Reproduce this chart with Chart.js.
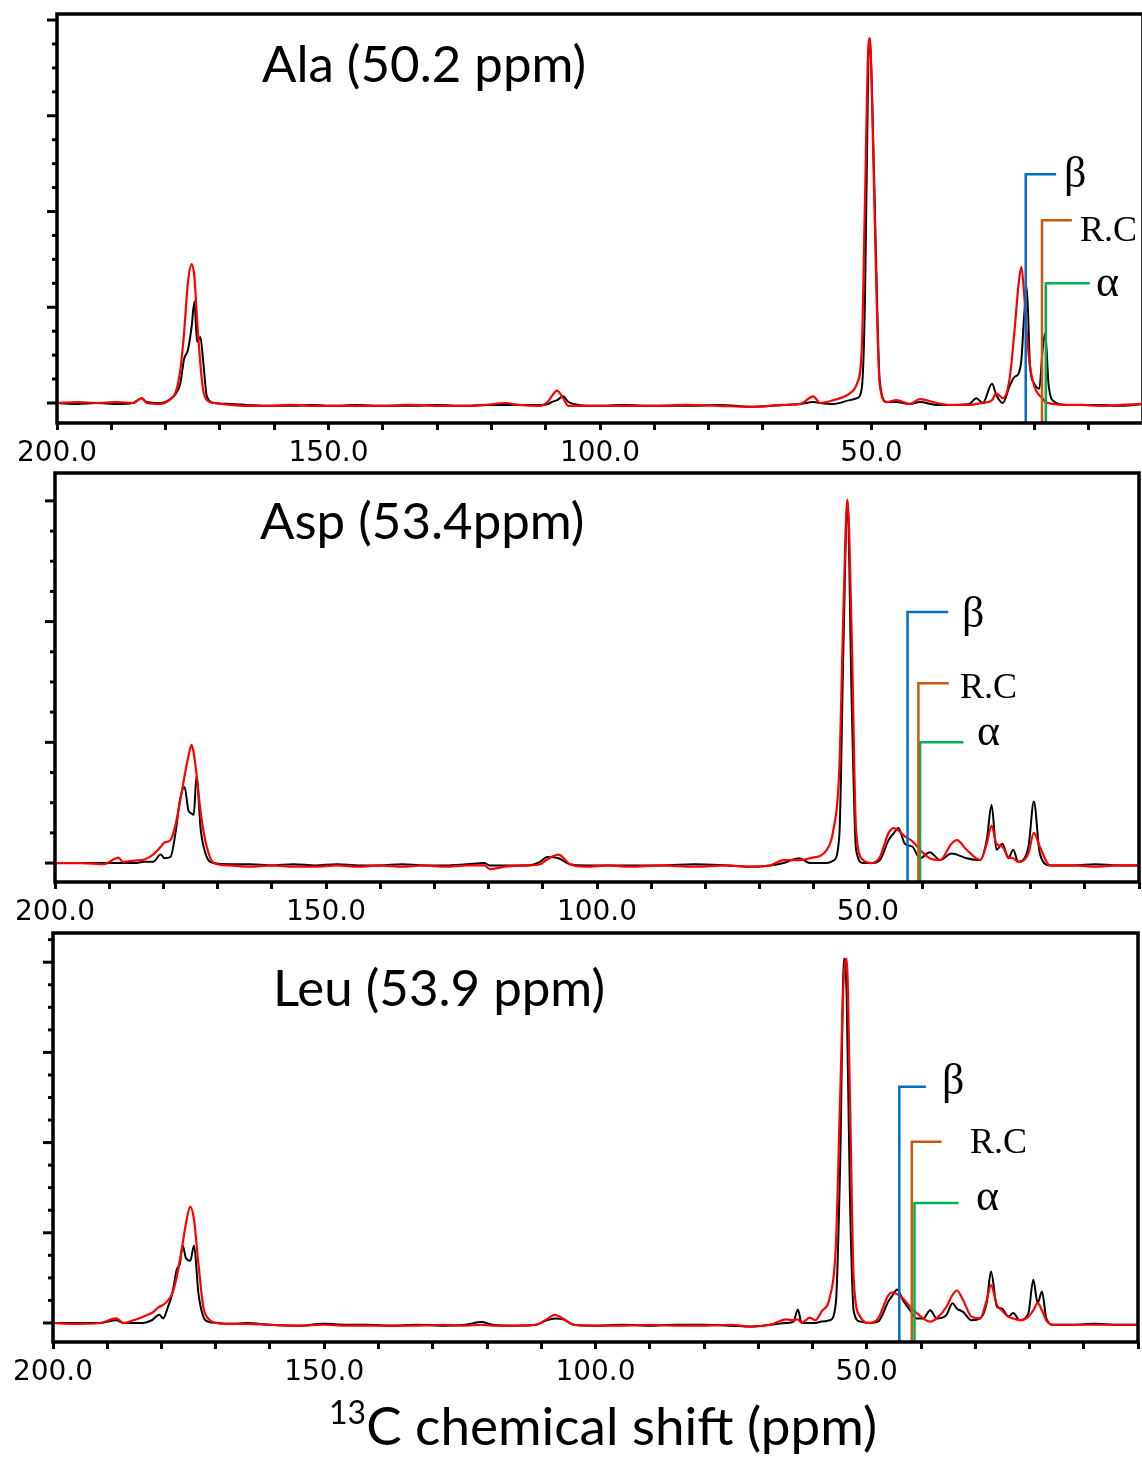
<!DOCTYPE html>
<html>
<head>
<meta charset="utf-8">
<script src="https://cdn.jsdelivr.net/npm/chart.js@4.4.1/dist/chart.umd.min.js"></script>
<style>
  body { margin: 0; background: #fff; width: 1142px; height: 1460px; overflow: hidden; position: relative; }
  canvas { position: absolute; left: 0; }
  .title { position: absolute; font-family: Lato, sans-serif; font-size: 51px; line-height: 51px; color: #000; white-space: nowrap; }
  .mark { position: absolute; font-family: "Liberation Serif", serif; color: #000; white-space: nowrap; }
  .xtitle { position: absolute; font-family: Lato, sans-serif; font-size: 53px; line-height: 53px; white-space: nowrap; }
  .xtitle sup { font-size: 32px; vertical-align: 0; position: relative; top: -21px; }
</style>
</head>
<body>
<canvas id="c1"></canvas>
<canvas id="c2"></canvas>
<canvas id="c3"></canvas>
<div class="xtitle" style="left:329px;top:1398px;"><sup>13</sup>C chemical shift (ppm)</div>
<script>
// ---- data (ppm, intensity relative to baseline) ----
const panelTitles = ["Ala (50.2 ppm)", "Asp (53.4ppm)", "Leu (53.9 ppm)"];
const markerNames = ["\u03b2", "R.C", "\u03b1"];
const labelledTicks = [200, 150, 100, 50];

const alaPpm = [200,196,192.9,189,186,184.4,183.5,181,179.1,178.1,177.3,176.6,175.9,175.2,174.7,174.2,173.6,173.1,172.4,171,
  168,165,161,157,153,149,145,140,135,130,125,121,117.4,115,111,109.5,108.9,107.9,106.8,105.8,104,100,
  96,90,84,78,72.3,66.2,63.1,60.7,59.5,57,54,52.7,51.8,51.2,50.6,50.3,49.9,49.2,48.5,47.2,45.4,43,41.1,38,35.6,32,30.7,29.5,
  27.8,27,25.8,24.6,23.7,22.9,22.4,21.9,21.4,20.8,20,19.1,18.5,18,17.4,16.7,14,11.2,8,4,0];
const alaRed = [0,0.01,0,0.01,0,0.05,0,-0.01,0.04,0.12,0.34,0.73,1.25,1.45,1.32,0.87,0.41,0.14,0.03,0,
  -0.02,-0.03,-0.03,-0.02,-0.03,-0.03,-0.03,-0.03,-0.02,-0.03,-0.03,-0.02,0,-0.02,-0.03,0.02,0.07,0.13,0.05,-0.03,-0.03,-0.03,
  -0.03,-0.03,-0.02,-0.03,-0.04,-0.02,-0.01,0.07,0,0.03,0.1,0.2,0.55,2.12,3.69,3.81,3.16,1.42,0.2,0.01,0.03,-0.01,0.04,0,-0.02,-0.02,-0.01,0,
  0.03,0.1,0.05,0.24,0.73,1.25,1.42,1.15,0.73,0.38,0.17,0.08,0.05,0.01,0,-0.01,-0.02,-0.02,-0.03,-0.02,-0.01];
const alaBlack = [0,-0.01,0,-0.01,0,0.05,0.01,0,0.04,0.1,0.2,0.46,0.55,0.8,1.06,0.64,0.69,0.45,0.07,0,
  -0.01,-0.02,-0.03,-0.03,-0.02,-0.03,-0.02,-0.03,-0.03,-0.02,-0.03,-0.02,-0.02,-0.02,-0.02,-0.01,0.01,0.03,0.07,0.01,-0.02,-0.03,
  -0.02,-0.03,-0.03,-0.02,-0.04,-0.02,-0.01,0.01,0,-0.01,0.03,0.05,0.15,1.08,3.51,3.81,3.23,1.6,0.24,0.01,0.01,-0.01,0.01,-0.02,-0.02,-0.01,0.05,0,
  0.2,0.08,0,0.17,0.27,0.31,0.45,0.9,1.21,0.38,0.2,0.15,0.55,0.73,0.2,0.03,-0.02,-0.02,-0.02,-0.03,-0.01];

const aspPpm = [200,195,191,188.3,187.5,185.4,183.5,181.9,180.5,179.8,178.7,177.7,177,176.1,175.4,174.8,174.4,173.9,173.1,172,170.7,
  167.8,164,160,156,152,148,144,140,136,132,128,124,120.8,119.8,117,113,110.5,109.2,107.1,105,102,98,
  94,88,82,76,71.8,68.1,65.6,62.7,60.7,57.6,56.4,55.3,54.5,53.8,53,52.2,50.9,49.3,47.8,46.2,45.2,44.4,43.2,41.8,40.4,38.6,36.7,
  34.6,33.6,31.8,29.3,28.1,27.2,26.3,25.2,24.1,23.2,22.3,20.4,19.4,18.3,16.4,12,8,4,0];
const aspRed = [0,0,-0.01,0.045,0.01,0.02,0.03,0.07,0.135,0.17,0.19,0.33,0.49,0.72,0.88,0.98,0.91,0.74,0.41,0.135,0,
  -0.02,-0.03,-0.02,-0.03,-0.03,-0.02,-0.03,-0.02,-0.03,-0.02,-0.03,-0.02,-0.02,-0.05,-0.03,-0.02,-0.01,0.03,0.07,-0.01,-0.03,-0.02,
  -0.03,-0.02,-0.03,-0.02,-0.03,-0.02,0.025,0.025,0.04,0.11,0.27,0.77,2.15,3.01,1.88,0.27,0.025,0,0.05,0.25,0.29,0.27,0.22,0.18,0.11,0.04,0.025,
  0.16,0.19,0.11,0.025,0.16,0.31,0.16,0.135,0.05,0.04,0.01,0.08,0.25,0.135,-0.02,-0.02,-0.03,-0.02,-0.02];
const aspBlack = [0,0,0,0,0,0,0.01,0.01,0.07,0.04,0.05,0.27,0.51,0.63,0.44,0.41,0.4,0.72,0.27,0.05,0,
  -0.01,-0.01,-0.02,-0.01,-0.02,-0.01,-0.02,-0.02,-0.01,-0.02,-0.02,-0.01,0,-0.02,-0.02,-0.02,0.01,0.05,0.04,-0.01,-0.02,-0.02,
  -0.02,-0.02,-0.01,-0.02,-0.03,-0.02,0,0.04,0,0,0.02,0.22,1.87,3.01,1.32,0.11,0,0,0.025,0.19,0.25,0.29,0.16,0.135,0.04,0.09,0.025,
  0.08,0.07,0.04,0.025,0.19,0.48,0.11,0.16,0.04,0.11,0.01,0.135,0.51,0.08,-0.02,-0.02,-0.01,-0.02,-0.02];

const leuPpm = [200,196,191.3,188.3,187,185.2,183.4,181.8,180.4,179.7,178.8,178,177.2,176.6,176.1,175.5,174.7,174,173.2,172.3,171.4,169.8,
  166.8,164.3,160,154.5,150.2,146,142,137.5,133,128,124,121,119,115,111,109,107.5,106,104,100,
  95,90,85,80,75,71.5,67.8,64.8,63.5,62.7,62,60.5,59.5,58.3,56.8,55.7,54.9,54.2,53.7,53.1,52.4,51.2,49.4,47.9,46,45.2,44.4,43.3,42,40.8,39.6,38.3,37.1,
  35.3,34.2,33.4,32.2,30.7,29.1,27.9,27.1,26,25.1,23.9,23,21.8,20.2,19.3,18.5,17.7,16.9,15.6,12,8,4,0];
const leuRed = [0,-0.01,0,0.05,0,0.03,0.07,0.11,0.18,0.2,0.25,0.33,0.51,0.7,0.88,1.1,1.29,1.14,0.66,0.18,0.05,0,
  -0.01,-0.01,-0.02,-0.03,-0.02,-0.03,-0.03,-0.03,-0.03,-0.02,-0.03,-0.02,-0.03,-0.03,-0.02,0.04,0.09,0.05,-0.02,-0.03,
  -0.03,-0.02,-0.03,-0.03,-0.02,-0.04,-0.02,0.04,0.03,0.04,0,0.06,0.03,0.13,0.29,0.85,2.51,3.88,4.04,2.51,0.48,0.07,0,0.05,0.31,0.34,0.32,0.27,0.18,0.11,0.05,0.015,0.05,
  0.18,0.31,0.36,0.25,0.07,0.05,0.25,0.42,0.2,0.14,0.07,0.05,0.03,0.07,0.14,0.22,0.14,0.03,-0.02,-0.02,-0.02,-0.02,-0.02];
const leuBlack = [0,0,0,0.03,0,0,0,0.03,0.09,0.05,0.18,0.33,0.59,0.66,0.86,0.72,0.69,0.86,0.33,0.07,0.015,0,
  -0.01,0,-0.02,-0.03,-0.01,-0.02,-0.02,-0.03,-0.02,-0.03,-0.02,0.01,-0.02,-0.03,-0.02,0.03,0.05,0.04,-0.02,-0.03,
  -0.02,-0.03,-0.02,-0.02,-0.03,-0.04,-0.02,0,0.015,0.15,0,0,0,0.015,0.03,0.22,1.77,4.04,3.62,1.4,0.13,0.015,0,0.015,0.24,0.31,0.37,0.25,0.14,0.05,0.05,0.14,0.05,
  0.09,0.22,0.16,0.12,0.03,0.05,0.22,0.57,0.18,0.16,0.07,0.11,0.03,0.11,0.48,0.22,0.35,0.05,-0.02,-0.02,-0.01,-0.02,-0.02];

// marker lines: [beta, R.C, alpha] — vertical position (ppm), top (intensity), end of horizontal arm (ppm)
const alaMarkX = [21.6, 18.6, 17.9], alaMarkTop = [2.39, 1.91, 1.25], alaMarkEnd = [16.0, 13.1, 9.8];
const aspMarkX = [42.7, 40.7, 40.4], aspMarkTop = [2.08, 1.49, 1.0], aspMarkEnd = [35.2, 35.1, 32.4];
const leuMarkX = [44.0, 41.7, 41.2], leuMarkTop = [2.62, 2.01, 1.33], leuMarkEnd = [39.1, 36.2, 33.1];

const markColors = ["#0070C0", "#C55A11", "#00B050"];

// ---- layout ----
const panels = [
  { id: "c1", top: 0, w: 1150, h: 470, left: 57, padTop: 14, padRight: 7, xh: 47, ymin: -0.209, ymax: 4.063,
    ppm: alaPpm, red: alaRed, black: alaBlack, mx: alaMarkX, mt: alaMarkTop, me: alaMarkEnd,
    title: [262, 37], marks: [[1064, 151, 44], [1080, 211, 36], [1096, 260, 44]] },
  { id: "c2", top: 470, w: 1142, h: 460, left: 55, padTop: 3, padRight: 3, xh: 48, ymin: -0.157, ymax: 3.231,
    ppm: aspPpm, red: aspRed, black: aspBlack, mx: aspMarkX, mt: aspMarkTop, me: aspMarkEnd,
    title: [260, 494], marks: [[962, 591, 44], [960, 668, 36], [977, 709, 44]] },
  { id: "c3", top: 930, w: 1142, h: 470, left: 53, padTop: 3, padRight: 4, xh: 58, ymin: -0.211, ymax: 4.324,
    ppm: leuPpm, red: leuRed, black: leuBlack, mx: leuMarkX, mt: leuMarkTop, me: leuMarkEnd,
    title: [273, 961], marks: [[942, 1058, 44], [970, 1123, 36], [976, 1174, 44]] }
];

const framePlugin = {
  id: "frame",
  afterDraw(chart) {
    const { ctx, chartArea: a } = chart;
    const y = chart.scales.y;
    ctx.save();
    ctx.strokeStyle = "#000";
    ctx.lineWidth = 3.5;
    ctx.strokeRect(a.left, a.top, a.right - a.left, a.bottom - a.top);
    ctx.lineWidth = 3;
    for (let v = Math.ceil(y.min * 4) / 4; v <= y.max; v += 0.25) {
      if (v < 0) continue;
      const py = y.getPixelForValue(v);
      const len = Number.isInteger(v) ? 10 : 5;
      ctx.beginPath();
      ctx.moveTo(a.left - len, py);
      ctx.lineTo(a.left, py);
      ctx.stroke();
    }
    ctx.restore();
  }
};

panels.forEach((p, i) => {
  const cv = document.getElementById(p.id);
  cv.width = p.w; cv.height = p.h;
  cv.style.top = p.top + "px";

  const pts = vals => p.ppm.map((x, k) => ({ x: x, y: vals[k] }));
  const datasets = [
    { data: pts(p.red), borderColor: "#ff0000", borderWidth: 2.2, cubicInterpolationMode: "monotone", order: 1 },
    { data: pts(p.black), borderColor: "#000000", borderWidth: 2, cubicInterpolationMode: "monotone", order: 2 }
  ];
  p.mx.forEach((mx, k) => {
    datasets.push({
      data: [{ x: mx, y: p.ymin }, { x: mx, y: p.mt[k] }, { x: p.me[k], y: p.mt[k] }],
      borderColor: markColors[k], borderWidth: 2.5, tension: 0, order: 0
    });
  });

  new Chart(cv, {
    type: "line",
    data: { datasets: datasets },
    plugins: [framePlugin],
    options: {
      responsive: false,
      animation: false,
      layout: { padding: { top: p.padTop, right: p.padRight, left: 0, bottom: 0 } },
      plugins: { legend: { display: false }, tooltip: { enabled: false } },
      elements: { point: { radius: 0 }, line: { fill: false } },
      scales: {
        x: {
          type: "linear", reverse: true, min: 0, max: 200,
          afterFit: s => { s.height = p.xh; s.paddingLeft = 0; s.paddingRight = 0; },
          border: { display: false },
          grid: { drawOnChartArea: false, tickLength: 7, tickWidth: 3, tickColor: "#000" },
          ticks: {
            stepSize: 10, autoSkip: false, maxRotation: 0, color: "#000", padding: 7,
            font: { family: "DejaVu Sans", size: 28 },
            callback: v => labelledTicks.includes(v) ? v.toFixed(1) : ""
          }
        },
        y: {
          min: p.ymin, max: p.ymax,
          afterFit: s => { s.width = p.left; },
          border: { display: false },
          grid: { display: false },
          ticks: { display: false }
        }
      }
    }
  });

  const t = document.createElement("div");
  t.className = "title";
  t.style.left = p.title[0] + "px";
  t.style.top = p.title[1] + "px";
  t.textContent = panelTitles[i];
  document.body.appendChild(t);

  p.marks.forEach((m, k) => {
    const d = document.createElement("div");
    d.className = "mark";
    d.style.left = m[0] + "px";
    d.style.top = m[1] + "px";
    d.style.fontSize = m[2] + "px";
    d.style.lineHeight = m[2] + "px";
    d.textContent = markerNames[k];
    document.body.appendChild(d);
  });
});
</script>
</body>
</html>
